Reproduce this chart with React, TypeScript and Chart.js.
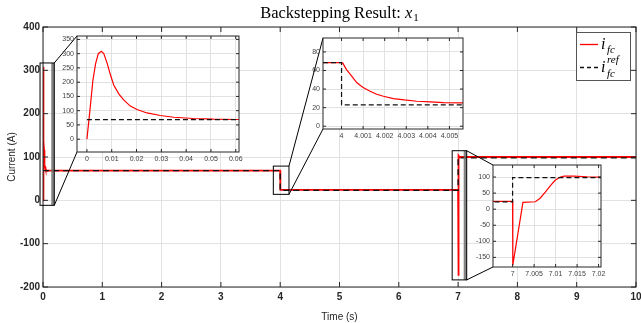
import React, { useEffect, useRef } from "react";
import { Chart, registerables } from "chart.js";
Chart.register(...registerables);

// ---------------- data ----------------
const T_FC = [0, 0.0012, 0.0024, 0.0035, 0.0046, 0.0058, 0.0068, 0.0082, 0.0095, 0.0108, 0.0129, 0.0149, 0.0175, 0.0202, 0.0242, 0.0296, 0.035, 0.043, 0.051, 0.06, 0.1, 4.0, 4.00005, 4.00023, 4.00047, 4.0007, 4.00098, 4.00132, 4.00163, 4.00194, 4.0024, 4.00291, 4.00349, 4.00411, 4.00473, 4.00563, 4.0075, 4.012, 4.03, 7.0, 7.00005, 7.0024, 7.0053, 7.0064, 7.0076, 7.0088, 7.0099, 7.0111, 7.012, 7.0142, 7.0173, 7.0205, 7.03, 10];
const I_FC = [0, 100, 206, 265, 300, 308, 300, 265, 225, 190, 158, 137, 116, 104, 92, 83, 77, 72.5, 70, 69, 68.5, 68.5, 68.2, 61, 54, 47, 42, 37.7, 34.4, 32.3, 29.8, 28.3, 26.9, 26.2, 25.5, 25.1, 24.7, 24.2, 24, 24, -174, 21, 23, 34, 53, 73, 90, 100, 103, 103, 101, 100, 100, 100];
const T_REF = [0, 4, 4, 7, 7, 10];
const I_REF = [68.5, 68.5, 23, 23, 98, 98];

const MAIN_X_TICKS = [0, 1, 2, 3, 4, 5, 6, 7, 8, 9, 10];
const MAIN_Y_TICKS = [-200, -100, 0, 100, 200, 300, 400];
const INSET1_X_TICKS = [0, 0.01, 0.02, 0.03, 0.04, 0.05, 0.06];
const INSET1_Y_TICKS = [0, 50, 100, 150, 200, 250, 300, 350];
const INSET2_X_TICKS = [4, 4.001, 4.002, 4.003, 4.004, 4.005];
const INSET2_Y_TICKS = [0, 20, 40, 60, 80];
const INSET3_X_TICKS = [7, 7.005, 7.01, 7.015, 7.02];
const INSET3_Y_TICKS = [-150, -100, -50, 0, 50, 100];

// axis limits (data units)
const MAIN_X_RANGE = [0, 10];
const MAIN_Y_RANGE = [-200, 400];
const INSET1_X_RANGE = [-0.004, 0.0613];
const INSET1_Y_RANGE = [-45, 362];
const INSET2_X_RANGE = [3.99914, 4.00563];
const INSET2_Y_RANGE = [-3, 95];
const INSET3_X_RANGE = [6.99544, 7.02056];
const INSET3_Y_RANGE = [-180, 137.5];
// zoom boxes on the main axes [x0, x1, y0, y1]
const BOX1 = [-0.05, 0.19, -11.5, 317];
const BOX2 = [3.884, 4.148, 13.8, 79];
const BOX3 = [6.9, 7.145, -183.6, 114.5];

const TITLE = "Backstepping Result: ";
const X_LABEL = "Time (s)";
const Y_LABEL = "Current (A)";

// ---------------- layout ----------------
const W = 641;
const H = 323;
const MAIN_LAYOUT = { left: 43, top: 27, right: 636, bottom: 287 };

type Inset = {
  area: { left: number; top: number; right: number; bottom: number };
  yW: number; xH: number; padTop: number; padRight: number;
  xRange: number[]; yRange: number[]; xTicks: number[]; yTicks: number[];
  box: number[]; band: boolean;
};

const INSETS: Inset[] = [
  { area: { left: 77, top: 36, right: 239, bottom: 152 }, yW: 22, xH: 14, padTop: 6, padRight: 8, xRange: INSET1_X_RANGE, yRange: INSET1_Y_RANGE, xTicks: INSET1_X_TICKS, yTicks: INSET1_Y_TICKS, box: BOX1, band: true },
  { area: { left: 323, top: 38, right: 463, bottom: 129 }, yW: 16, xH: 14, padTop: 6, padRight: 8, xRange: INSET2_X_RANGE, yRange: INSET2_Y_RANGE, xTicks: INSET2_X_TICKS, yTicks: INSET2_Y_TICKS, box: BOX2, band: false },
  { area: { left: 493, top: 165, right: 601, bottom: 267 }, yW: 24, xH: 14, padTop: 6, padRight: 8, xRange: INSET3_X_RANGE, yRange: INSET3_Y_RANGE, xTicks: INSET3_X_TICKS, yTicks: INSET3_Y_TICKS, box: BOX3, band: true },
];

const canvasRect = (ins: Inset) => {
  const left = ins.area.left - ins.yW;
  const top = ins.area.top - ins.padTop;
  return { left, top, width: ins.area.right + ins.padRight - left, height: ins.area.bottom + ins.xH - top };
};

const pts = (ts: number[], vs: number[]) => ts.map((t, i) => ({ x: t, y: vs[i] }));
const fmt = (v: any) => String(Math.round(Number(v) * 1e6) / 1e6);

const makeDatasets = (wRed: number, wRef: number, dash: number[]) => [
  { label: "i_fc", data: pts(T_FC, I_FC), borderColor: "#ff0000", backgroundColor: "#ff0000", borderWidth: wRed, pointRadius: 0, fill: false, order: 2 },
  { label: "i_fc^ref", data: pts(T_REF, I_REF), borderColor: "#111111", backgroundColor: "#111111", borderDash: dash, borderWidth: wRef, pointRadius: 0, fill: false, order: 1 },
];

const fixX = (h: number) => (s: any) => { s.height = h; s.paddingLeft = 0; s.paddingRight = 0; s.paddingTop = 0; s.paddingBottom = 0; };
const fixY = (w: number) => (s: any) => { s.width = w; s.paddingLeft = 0; s.paddingRight = 0; s.paddingTop = 0; s.paddingBottom = 0; };
const setTicks = (vals: number[]) => (s: any) => { s.ticks = vals.map((v) => ({ value: v })); };

const framePlugin = (tickLen: number, fillWhite: boolean) => ({
  id: "frame",
  beforeDraw(chart: any) {
    if (!fillWhite) return;
    const { ctx, chartArea: a } = chart;
    ctx.save();
    ctx.fillStyle = "#ffffff";
    ctx.fillRect(a.left, a.top, a.right - a.left, a.bottom - a.top);
    ctx.restore();
  },
  afterDraw(chart: any) {
    const { ctx, chartArea: a, scales } = chart;
    ctx.save();
    ctx.strokeStyle = "#262626";
    ctx.lineWidth = 1;
    ctx.beginPath();
    for (const t of scales.x.ticks) {
      const px = scales.x.getPixelForValue(t.value);
      ctx.moveTo(px, a.bottom); ctx.lineTo(px, a.bottom - tickLen);
      ctx.moveTo(px, a.top); ctx.lineTo(px, a.top + tickLen);
    }
    for (const t of scales.y.ticks) {
      const py = scales.y.getPixelForValue(t.value);
      ctx.moveTo(a.left, py); ctx.lineTo(a.left + tickLen, py);
      ctx.moveTo(a.right, py); ctx.lineTo(a.right - tickLen, py);
    }
    ctx.stroke();
    ctx.strokeRect(a.left, a.top, a.right - a.left, a.bottom - a.top);
    ctx.restore();
  },
});

export default function App() {
  const mainRef = useRef<HTMLCanvasElement | null>(null);
  const r1 = useRef<HTMLCanvasElement | null>(null);
  const r2 = useRef<HTMLCanvasElement | null>(null);
  const r3 = useRef<HTMLCanvasElement | null>(null);

  useEffect(() => {
    const refs = [r1, r2, r3];
    const insetAreas: any[] = [];
    const charts: Chart[] = [];

    INSETS.forEach((ins, k) => {
      const cv = refs[k].current!;
      const cr = canvasRect(ins);
      const tickFont = { family: "'Liberation Sans', Arial, sans-serif", size: 7 };
      const ch = new Chart(cv, {
        type: "line",
        data: { datasets: makeDatasets(1.2, 1.2, [5, 3]) as any },
        options: {
          animation: false, responsive: false, devicePixelRatio: 1, events: [],
          layout: { padding: { top: ins.padTop, right: ins.padRight, left: 0, bottom: 0 } },
          plugins: { legend: { display: false }, tooltip: { enabled: false }, title: { display: false } },
          scales: {
            x: {
              type: "linear", min: ins.xRange[0], max: ins.xRange[1],
              afterBuildTicks: setTicks(ins.xTicks), afterFit: fixX(ins.xH),
              grid: { color: "#e2e2e2", drawTicks: false }, border: { display: false },
              ticks: { font: tickFont, color: "#404040", padding: 3, autoSkip: false, maxRotation: 0, callback: fmt },
            },
            y: {
              type: "linear", min: ins.yRange[0], max: ins.yRange[1],
              afterBuildTicks: setTicks(ins.yTicks), afterFit: fixY(ins.yW),
              grid: { color: "#e2e2e2", drawTicks: false }, border: { display: false },
              ticks: { font: tickFont, color: "#404040", padding: 3, autoSkip: false, callback: fmt },
            },
          },
        } as any,
        plugins: [framePlugin(3, true)],
      });
      charts.push(ch);
      const a = ch.chartArea;
      insetAreas.push({ left: cr.left + a.left, top: cr.top + a.top, right: cr.left + a.right, bottom: cr.top + a.bottom });
    });

    const overlay = {
      id: "overlay",
      afterDraw(chart: any) {
        const { ctx, chartArea: a, scales } = chart;
        const xs = scales.x, ys = scales.y;
        ctx.save();
        // zoom boxes and connectors
        INSETS.forEach((ins, k) => {
          const [x0, x1, y0, y1] = ins.box;
          const L = xs.getPixelForValue(x0), R = xs.getPixelForValue(x1);
          const T = ys.getPixelForValue(y1), B = ys.getPixelForValue(y0);
          if (ins.band) {
            ctx.fillStyle = "rgba(110,110,110,0.85)";
            ctx.fillRect(R - 3, T, 3, B - T);
          }
          ctx.strokeStyle = "#000000";
          ctx.lineWidth = 1;
          ctx.strokeRect(L, T, R - L, B - T);
          const ia = insetAreas[k];
          ctx.beginPath();
          ctx.moveTo(R, T); ctx.lineTo(ia.left, ia.top);
          ctx.moveTo(R, B); ctx.lineTo(ia.left, ia.bottom);
          ctx.stroke();
        });
        // title
        const serif = "'Liberation Serif', 'DejaVu Serif', serif";
        ctx.fillStyle = "#000000";
        ctx.textBaseline = "alphabetic";
        const fs = 16.5;
        ctx.font = `${fs}px ${serif}`;
        const w1 = ctx.measureText(TITLE).width;
        ctx.font = `italic ${fs}px ${serif}`;
        const w2 = ctx.measureText("x").width;
        ctx.font = `11px ${serif}`;
        const w3 = ctx.measureText("1").width;
        const cx = (a.left + a.right) / 2;
        let x = cx - (w1 + w2 + w3 + 1) / 2;
        const by = 17.5;
        ctx.font = `${fs}px ${serif}`;
        ctx.fillText(TITLE, x, by); x += w1;
        ctx.font = `italic ${fs}px ${serif}`;
        ctx.fillText("x", x, by); x += w2 + 1;
        ctx.font = `11px ${serif}`;
        ctx.fillText("1", x, by + 3);
        // legend
        const lx = 576.5, ly = 32.5, lw = 54, lh = 48;
        ctx.fillStyle = "#ffffff";
        ctx.fillRect(lx, ly, lw, lh);
        ctx.strokeStyle = "#555555";
        ctx.lineWidth = 1;
        ctx.strokeRect(lx, ly, lw, lh);
        ctx.lineWidth = 1.3;
        ctx.strokeStyle = "#ff0000";
        ctx.beginPath(); ctx.moveTo(580, 44.5); ctx.lineTo(598, 44.5); ctx.stroke();
        ctx.strokeStyle = "#111111";
        ctx.setLineDash([4, 3]);
        ctx.beginPath(); ctx.moveTo(580, 67.5); ctx.lineTo(598, 67.5); ctx.stroke();
        ctx.setLineDash([]);
        ctx.fillStyle = "#000000";
        ctx.font = `italic 16px ${serif}`;
        ctx.fillText("i", 601, 49);
        ctx.fillText("i", 601, 72);
        ctx.font = `italic 11px ${serif}`;
        ctx.fillText("fc", 607, 53);
        ctx.fillText("ref", 607, 63);
        ctx.fillText("fc", 607, 77);
        ctx.restore();
      },
    };

    const tickFont = { family: "'Liberation Sans', Arial, sans-serif", size: 10, weight: "bold" };
    const titleFont = { family: "'Liberation Sans', Arial, sans-serif", size: 10 };
    const main = new Chart(mainRef.current!, {
      type: "line",
      data: { datasets: makeDatasets(1.8, 1.4, [6, 4]) as any },
      options: {
        animation: false, responsive: false, devicePixelRatio: 1, events: [],
        layout: { padding: { top: MAIN_LAYOUT.top, right: W - MAIN_LAYOUT.right, left: 0, bottom: 0 } },
        plugins: { legend: { display: false }, tooltip: { enabled: false }, title: { display: false } },
        scales: {
          x: {
            type: "linear", min: MAIN_X_RANGE[0], max: MAIN_X_RANGE[1],
            afterBuildTicks: setTicks(MAIN_X_TICKS), afterFit: fixX(H - MAIN_LAYOUT.bottom),
            grid: { color: "#e2e2e2", drawTicks: false }, border: { display: false },
            ticks: { font: tickFont, color: "#262626", padding: 4, autoSkip: false, maxRotation: 0, callback: fmt },
            title: { display: true, text: X_LABEL, font: titleFont, color: "#262626", padding: { top: 3, bottom: 0 } },
          },
          y: {
            type: "linear", min: MAIN_Y_RANGE[0], max: MAIN_Y_RANGE[1],
            afterBuildTicks: setTicks(MAIN_Y_TICKS), afterFit: fixY(MAIN_LAYOUT.left),
            grid: { color: "#e2e2e2", drawTicks: false }, border: { display: false },
            ticks: { font: tickFont, color: "#262626", padding: 3, autoSkip: false, callback: fmt },
            title: { display: true, text: Y_LABEL, font: titleFont, color: "#262626", padding: { top: 6, bottom: 0 } },
          },
        },
      } as any,
      plugins: [framePlugin(5, false), overlay],
    });
    charts.push(main);

    return () => { charts.forEach((c) => c.destroy()); };
  }, []);

  return (
    <div style={{ position: "absolute", left: 0, top: 0, width: W, height: H, background: "#ffffff", overflow: "hidden" }}>
      <canvas ref={mainRef} width={W} height={H} style={{ position: "absolute", left: 0, top: 0 }} />
      {INSETS.map((ins, k) => {
        const cr = canvasRect(ins);
        return (
          <canvas key={k} ref={[r1, r2, r3][k]} width={cr.width} height={cr.height}
            style={{ position: "absolute", left: cr.left, top: cr.top, width: cr.width, height: cr.height }} />
        );
      })}
    </div>
  );
}
